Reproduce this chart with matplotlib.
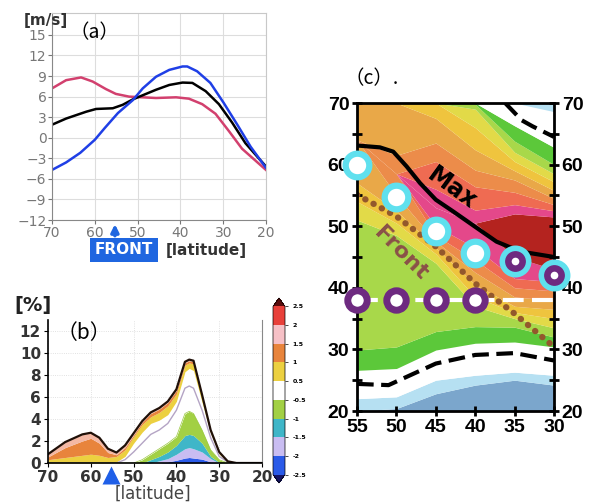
import numpy as np
import matplotlib
matplotlib.use("Agg")
import matplotlib as mpl
import matplotlib.pyplot as plt
from matplotlib.colors import ListedColormap, BoundaryNorm

# ---------------- data ----------------
# (a) wind profiles [m/s] vs latitude
lat_black = [70, 66.7, 62, 59.7, 55.8, 53.5, 51.1, 48.8, 45.7, 42.6, 39.5, 37.2, 34.1, 31, 27.9, 24.8, 20]
u_black = [1.9, 2.8, 3.8, 4.2, 4.3, 4.8, 5.6, 6.2, 7.0, 7.7, 8.05, 8.0, 6.8, 4.9, 2.2, -0.8, -4.2]
lat_blue = [70, 66.7, 63.4, 60, 57.7, 54.6, 51.1, 48.8, 45.7, 42.6, 39.5, 38.4, 36.1, 33, 29.9, 26.7, 23.6, 20]
u_blue = [-4.7, -3.6, -2.2, -0.3, 1.4, 3.6, 5.5, 7.2, 8.9, 9.9, 10.4, 10.4, 9.7, 8.0, 5.1, 1.9, -1.3, -4.4]
lat_red = [70, 66.7, 63.2, 60.5, 57.4, 55.1, 52, 48.8, 45.7, 41, 38, 34.9, 31.8, 28.7, 25.6, 20]
u_red = [7.2, 8.4, 8.8, 8.2, 7.1, 6.4, 6.0, 5.9, 5.8, 5.9, 5.7, 4.9, 3.5, 1.0, -1.6, -4.7]
front_lat = 55.3

# (b) stacked frequency [%] (cumulative tops of each colour class)
lat_b = [70, 66, 62, 60, 58, 56, 54, 52, 50, 48, 46, 44, 42, 40, 38, 37, 36, 34, 32, 30, 28, 26, 20]
top_blue = [0, 0, 0, 0, 0, 0, 0, 0, 0, 0, 0, 0, 0.1, 0.25, 0.45, 0.5, 0.45, 0.35, 0.1, 0, 0, 0, 0]
top_lav = [0, 0, 0, 0, 0, 0, 0, 0, 0, 0, 0, 0.2, 0.4, 0.8, 1.3, 1.4, 1.3, 1.0, 0.4, 0, 0, 0, 0]
top_teal = [0, 0, 0, 0, 0, 0, 0, 0, 0, 0, 0.3, 0.6, 1.0, 1.6, 2.5, 2.6, 2.5, 1.8, 0.6, 0.05, 0, 0, 0]
top_green = [0, 0, 0, 0, 0, 0, 0, 0, 0, 0.3, 0.8, 1.3, 1.8, 2.4, 4.5, 4.7, 4.5, 3.0, 1.2, 0.3, 0, 0, 0]
top_white1 = [0, 0, 0, 0, 0, 0, 0, 0.3, 1.0, 1.8, 2.6, 3.0, 3.6, 4.8, 6.8, 7.0, 6.8, 4.8, 2.3, 0.6, 0.1, 0, 0]
top_white2 = [0, 0, 0, 0, 0, 0, 0.1, 0.6, 1.8, 2.8, 3.6, 3.9, 4.4, 5.6, 8.3, 8.6, 8.4, 5.5, 2.7, 0.8, 0.1, 0, 0]
top_yellow = [0.3, 0.5, 0.7, 0.8, 0.7, 0.5, 0.6, 1.2, 2.4, 3.5, 4.2, 4.6, 5.2, 6.3, 8.9, 9.1, 9.0, 6.0, 2.9, 0.95, 0.12, 0, 0]
top_orange = [0.55, 1.4, 2.0, 2.25, 1.8, 0.95, 0.75, 1.4, 2.55, 3.7, 4.5, 4.9, 5.5, 6.6, 9.1, 9.3, 9.2, 6.15, 2.95, 1.0, 0.15, 0, 0]
top_total = [0.8, 1.9, 2.6, 2.75, 2.3, 1.3, 0.95, 1.6, 2.7, 3.8, 4.6, 5.0, 5.6, 6.7, 9.2, 9.4, 9.3, 6.2, 3.0, 1.0, 0.15, 0, 0]
cb_bounds = [-2.5, -2, -1.5, -1, -0.5, 0.5, 1, 1.5, 2, 2.5]
cb_labels = ["-2.5", "-2", "-1.5", "-1", "-0.5", "0.5", "1", "1.5", "2", "2.5"]

# (c) lon-lat section, latitude of each colour boundary at each longitude
lon_c = [55, 50, 45, 40, 35, 30]
# ascending classes (from 20N upward)
b_steel = [20.0, 20.4, 22.8, 24.2, 25.0, 24.2]
b_lblue = [22.0, 22.3, 25.0, 25.8, 26.3, 25.8]
b_white = [26.6, 26.9, 29.9, 31.0, 31.2, 30.4]
b_dgreen = [29.9, 30.4, 32.9, 33.7, 33.6, 32.0]
b_lgreen = [51.0, 48.5, 44.0, 37.0, 35.0, 33.5]
b_yellow = [54.0, 50.5, 45.5, 38.5, 36.0, 35.0]
b_golden = [57.0, 52.5, 46.5, 40.5, 37.0, 36.5]
b_lorange = [64.0, 55.0, 47.5, 42.5, 38.5, 38.0]
b_orange = [64.0, 58.5, 48.5, 44.5, 40.0, 39.5]
b_salmon = [64.0, 58.5, 50.0, 46.5, 41.5, 41.0]
b_pink = [64.0, 58.5, 53.0, 50.5, 45.0, 43.0]
b_dred = [64.0, 58.5, 53.0, 50.5, 52.0, 51.5]
# descending classes (above the maximum)
d_pink = [64.0, 58.5, 56.0, 52.6, 53.5, 52.5]
d_salmon = [64.0, 58.5, 60.5, 56.4, 55.5, 53.5]
d_orange = [64.0, 61.5, 63.5, 59.1, 57.5, 54.5]
d_lorange = [70.0, 70.0, 67.5, 62.4, 59.0, 55.8]
d_golden = [70.0, 70.0, 70.0, 66.0, 60.5, 57.2]
d_yellow = [70.0, 70.0, 70.0, 69.0, 62.0, 58.5]
d_lgreen = [70.0, 70.0, 70.0, 69.8, 63.8, 60.0]
d_dgreen = [70.0, 70.0, 70.0, 70.0, 66.3, 62.8]
d_white = [70.0, 70.0, 70.0, 70.0, 70.0, 68.6]
d_lblue = [70.0, 70.0, 70.0, 70.0, 70.0, 70.0]

max_lon = [55, 52.1, 50.4, 48.7, 47, 45, 42.8, 40, 37.3, 34.3, 30]
max_lat = [63.1, 62.8, 62.1, 59.7, 57.0, 54.3, 52.4, 49.9, 47.5, 45.9, 45.0]
front_lon = [55, 50, 45, 40, 35, 30]
front_lat_c = [55.1, 51.6, 46.7, 40.7, 35.8, 30.4]
dash_lo_lon = [55, 51, 45, 40, 35, 30]
dash_lo_lat = [24.4, 24.2, 27.7, 29.1, 29.4, 28.2]
dash_hi_lon = [36.2, 34.1, 32.7, 30]
dash_hi_lat = [70, 67.2, 66.2, 64.5]
cyan_lon = [55, 50, 45, 40]
cyan_lat = [60, 54.8, 49.3, 45.7]
both_lon = [35, 30]
both_lat = [44.3, 42.1]
purple_lon = [55, 50, 45, 40]
purple_lat = [38, 38, 38, 38]

# ---------------- figure ----------------
fig = plt.figure(figsize=(6, 5.04), dpi=100)
W, H = 600, 504


def box(l, t, r, b):
    return [l / W, 1 - b / H, (r - l) / W, (b - t) / H]


# ===== (a) =====
ax = fig.add_axes(box(52, 13, 266, 220))
ax.plot(lat_red, u_red, color="#d2406e", lw=1.8)
ax.plot(lat_black, u_black, color="black", lw=1.8)
ax.plot(lat_blue, u_blue, color="#1f3fe6", lw=1.8)
ax.set_xlim(70, 20)
ax.set_ylim(-12, 18.2)
ax.set_xticks([70, 60, 50, 40, 30, 20])
ax.set_yticks(range(-12, 16, 3))
ax.grid(color="#dddddd", lw=0.8)
ax.set_axisbelow(True)
for s in ["top", "right"]:
    ax.spines[s].set_color("#c8c8c8")
for s in ["left", "bottom"]:
    ax.spines[s].set_color("#888888")
ax.tick_params(colors="#777777", labelcolor="#777777", labelsize=10, length=3,
               pad=1)
fig.text(46 / W, 1 - 20 / H, "[m/s]", ha="center", va="center", fontsize=11,
         fontweight="bold", color="#333333")
fig.text(94 / W, 1 - 33 / H, "（a）", ha="center", va="center", fontsize=14,
         family=["Noto Sans CJK JP", "DejaVu Sans"])
fig.text(124 / W, 1 - 250 / H, "FRONT", ha="center", va="center", fontsize=11,
         fontweight="bold", color="white",
         bbox=dict(boxstyle="square,pad=0.3", fc="#1f66e0", ec="none"))
ax.annotate("", xy=(front_lat, -12.2), xytext=(front_lat, -14.7),
            arrowprops=dict(arrowstyle="-|>", color="#1f66e0", lw=2.5,
                            mutation_scale=11), annotation_clip=False)
fig.text(206 / W, 1 - 250 / H, "[latitude]", ha="center", va="center",
         fontsize=11, fontweight="bold", color="#333333")

# ===== (b) =====
bx = fig.add_axes(box(48, 320, 262, 463))
layers = [np.zeros(len(lat_b)), top_blue, top_lav, top_teal, top_green,
          top_white1, top_white2, top_yellow, top_orange, top_total]
layer_cols = ["#2a5ae8", "#c9bdf2", "#3fb6c8", "#a2d044", "white", "white",
              "#ecd040", "#e8843c", "#f4b8a4"]
for i, c in enumerate(layer_cols):
    bx.fill_between(lat_b, layers[i], layers[i + 1], color=c, lw=0)
bx.plot(lat_b, top_white1, color="#b4a4c4", lw=1.0)
bx.plot(lat_b, top_green, color="#9ac840", lw=0.5)
bx.plot(lat_b, top_total, color="#201008", lw=1.6)
bx.set_xlim(70, 20)
bx.set_ylim(0, 13)
bx.set_xticks([70, 60, 50, 40, 30, 20])
bx.set_yticks(range(0, 13, 2))
bx.grid(color="#d8d8d8", lw=0.6, ls=":")
bx.set_axisbelow(True)
bx.spines["top"].set_visible(False)
bx.spines["right"].set_color("#888888")
bx.spines["left"].set_linewidth(1.2)
bx.spines["bottom"].set_linewidth(1.2)
bx.tick_params(labelsize=11, length=3, labelcolor="#333333", pad=2)
for t in bx.get_xticklabels() + bx.get_yticklabels():
    t.set_fontweight("bold")
bx.plot([front_lat], [-1.1], marker="^", ms=13, color="#1f5fe8", mec="none",
        clip_on=False)
fig.text(33 / W, 1 - 305 / H, "[%]", ha="center", va="center", fontsize=14,
         fontweight="bold", color="#222222")
fig.text(84 / W, 1 - 333 / H, "（b）", ha="center", va="center", fontsize=15,
         family=["Noto Sans CJK JP", "DejaVu Sans"])
fig.text(153 / W, 1 - 494 / H, "[latitude]", ha="center", va="center",
         fontsize=12, color="#444444")

cax = fig.add_axes(box(273, 298, 285, 483))
cmap = ListedColormap(["#2a5ae8", "#c9bdf2", "#3fb6c8", "#a2d044", "white",
                       "#ecd040", "#e8843c", "#f6c0c6", "#e8403a"])
cmap.set_under("#141466")
cmap.set_over("#5a0c0c")
norm = BoundaryNorm(cb_bounds, cmap.N)
cb = fig.colorbar(mpl.cm.ScalarMappable(norm=norm, cmap=cmap), cax=cax,
                  extend="both", ticks=cb_bounds)
cb.set_ticklabels(cb_labels)
cb.ax.tick_params(labelsize=4.5, length=2, width=0.5)
cb.outline.set_linewidth(0.5)
for t in cb.ax.get_yticklabels():
    t.set_fontweight("bold")

# ===== (c) =====
cx = fig.add_axes(box(357, 103, 554, 411))
col = dict(steel="#7ba6cc", lblue="#b6e0f2", white="#ffffff", dgreen="#5cc83a",
           lgreen="#a8d84a", yellow="#e2da48", golden="#efc43e",
           lorange="#e9a848", orange="#ec8c4a", salmon="#ef6b52",
           pink="#e4488a", dred="#b4231f")
bounds = [[20] * 6, b_steel, b_lblue, b_white, b_dgreen, b_lgreen, b_yellow,
          b_golden, b_lorange, b_orange, b_salmon, b_pink, b_dred,
          d_pink, d_salmon, d_orange, d_lorange, d_golden, d_yellow,
          d_lgreen, d_dgreen, d_white, d_lblue]
band_cols = ["steel", "lblue", "white", "dgreen", "lgreen", "yellow", "golden",
             "lorange", "orange", "salmon", "pink", "dred", "pink", "salmon",
             "orange", "lorange", "golden", "yellow", "lgreen", "dgreen",
             "white", "lblue"]
for i, c in enumerate(band_cols):
    lo = np.array(bounds[i], dtype=float)
    hi = np.array(bounds[i + 1], dtype=float)
    cx.fill_between(lon_c, lo, hi, where=None, color=col[c], lw=0)

cx.plot(max_lon, max_lat, color="black", lw=3)
cx.plot(front_lon, front_lat_c, color="#93582c", lw=4.5,
        ls=(0, (0.05, 1.45)), dash_capstyle="round")
cx.plot(dash_lo_lon, dash_lo_lat, color="black", lw=3, ls=(0, (4, 1.8)))
cx.plot(dash_hi_lon, dash_hi_lat, color="black", lw=3, ls=(0, (4, 1.8)))
cx.plot([55, 30], [38, 38], color="white", lw=3, ls=(0, (5, 2)))
cx.plot(cyan_lon, cyan_lat, ls="none", marker="o", ms=17, mfc="white",
        mec="#5fe0ee", mew=4.5, clip_on=False, zorder=5)
cx.plot(both_lon, both_lat, ls="none", marker="o", ms=19, mfc="#6e2a80",
        mec="#5fe0ee", mew=4, clip_on=False, zorder=5)
cx.plot(both_lon, both_lat, ls="none", marker="o", ms=5.5, mfc="white",
        mec="none", clip_on=False, zorder=6)
cx.plot(purple_lon, purple_lat, ls="none", marker="o", ms=14, mfc="white",
        mec="#6e2a80", mew=5, clip_on=False, zorder=5)
cx.text(42.9, 56.2, "Max", rotation=-36, ha="center", va="center",
        fontsize=17, fontweight="heavy", color="black")
cx.text(49.4, 45.6, "Front", rotation=-45, ha="center", va="center",
        fontsize=16, fontweight="heavy", color="#8a5048")

cx.set_xlim(55, 30)
cx.set_ylim(20, 70)
tick_font = dict(fontsize=14, fontweight="bold", family="Liberation Sans")
cx.set_xticks(lon_c, [str(v) for v in lon_c], **tick_font)
cx.set_yticks([20, 30, 40, 50, 60, 70], ["20", "30", "40", "50", "60", "70"],
              **tick_font)
cx.set_yticks([25, 35, 45, 55, 65], minor=True)
cx.tick_params(which="both", direction="inout", length=7, width=2,
               right=True, labelright=True, pad=2)
for s in cx.spines.values():
    s.set_linewidth(2)
fig.text(372 / W, 1 - 79 / H, "（c）.", ha="center", va="center", fontsize=14,
         family=["Noto Sans CJK JP", "DejaVu Sans"])

fig.savefig("out.png", dpi=100)
